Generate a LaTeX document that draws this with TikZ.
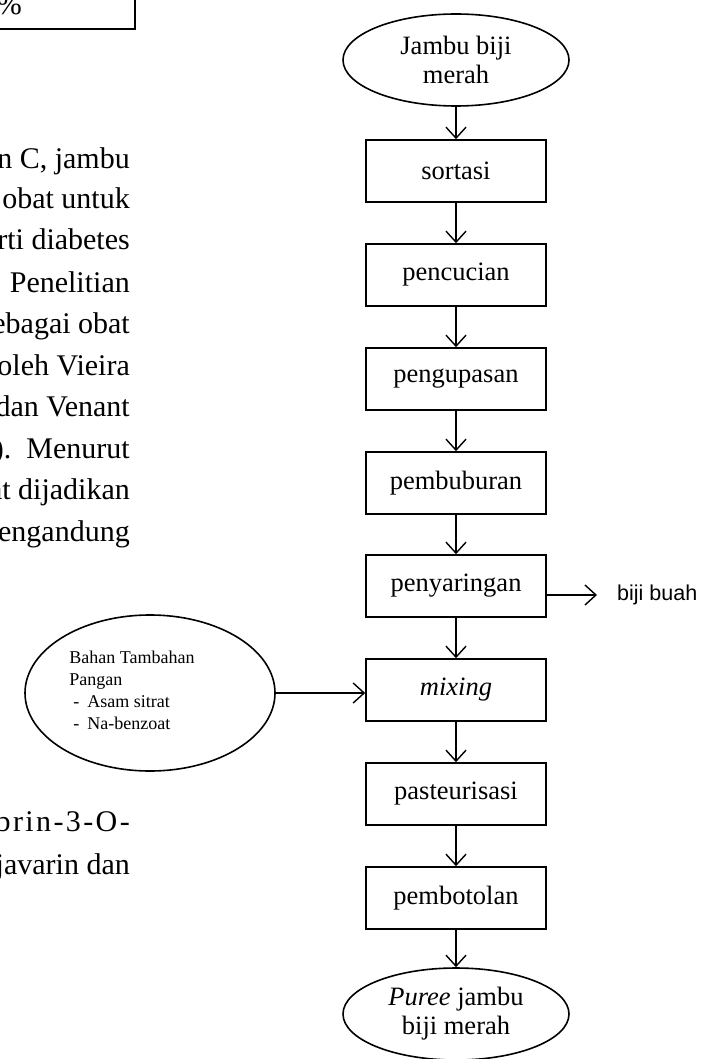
\documentclass[tikz,border=0pt]{standalone}
\usepackage{fontspec}
\setmainfont{Liberation Serif}
\newfontfamily\sansf{Liberation Sans}
\usetikzlibrary{arrows.meta,shapes.geometric}
\begin{document}
\begin{tikzpicture}[x=1pt,y=-1pt,
  flowbox/.style={draw, line width=1.6pt, minimum width=180pt, minimum height=62pt, inner sep=0pt,
    font=\fontsize{26.5}{29}\selectfont},
  term/.style={draw, ellipse, line width=1.6pt, minimum width=226pt, minimum height=92pt, inner sep=0pt,
    align=center, font=\fontsize{26.5}{29}\selectfont},
  bodyline/.style={anchor=base east, inner sep=0pt, font=\fontsize{30}{36}\selectfont},
  arr/.style={line width=1.4pt, -{Straight Barb[length=11pt,width=20pt,line width=1.4pt]}}
]
\useasboundingbox[fill=white] (0,0) rectangle (701,1059);

% cut-off table on the top left
\draw[line width=1.7pt] (-3,29) -- (135,29) -- (135,-3);
\node[bodyline] (pct) at (22,15) {\%};

% cut-off body text
\node[bodyline] (t1) at (130,169) {n C, jambu};
\node[bodyline] (t2) at (130,209) {obat untuk};
\node[bodyline] (t3) at (130,250) {rti diabetes};
\node[bodyline] (t4) at (130,292) {Penelitian};
\node[bodyline] (t5) at (130,333) {ebagai obat};
\node[bodyline] (t6) at (130,375) {oleh Vieira};
\node[bodyline] (t7) at (130,416) {dan Venant};
\node[bodyline] (t8) at (130,458) {).\ \ Menurut};
\node[bodyline] (t9) at (130,499) {at dijadikan};
\node[bodyline] (t10) at (130,541) {engandung};
\node[bodyline] (t11) at (130,831) {\addfontfeature{LetterSpace=8}brin-3-O-};
\node[bodyline] (t12) at (130,874) {javarin dan};

% flowchart
\node[term] (start) at (456,60) {Jambu biji\\merah};
\node[flowbox] (sortasi) at (456,171) {sortasi};
\node[flowbox] (cuci) at (456,275) {pencucian};
\node[flowbox] (kupas) at (456,379) {pengupasan};
\node[flowbox] (bubur) at (456,483) {pembuburan};
\node[flowbox] (saring) at (456,586) {penyaringan};
\node[flowbox] (mix) at (456,690) {\itshape mixing};
\node[flowbox] (pasteur) at (456,794) {pasteurisasi};
\node[flowbox] (botol) at (456,898) {pembotolan};
\node[term] (end) at (456,1014) {\textit{Puree} jambu\\biji merah};

\node[draw, ellipse, line width=1.6pt, minimum width=250pt, minimum height=156pt, inner sep=0pt] (btp) at (150,693) {};
\node[align=left, inner sep=0pt, font=\fontsize{18}{22}\selectfont] (btptext) at (132,690)
  {Bahan Tambahan\\Pangan\\\hspace*{4pt}-\hspace*{8pt}Asam sitrat\\\hspace*{4pt}-\hspace*{8pt}Na-benzoat};

\coordinate (bbend) at (597,595);
\node[anchor=west, inner sep=0pt, font=\sansf\fontsize{21.5}{25}\selectfont] (biji) at (617,595) {biji buah};

\draw[arr] (start) -- (sortasi);
\draw[arr] (sortasi) -- (cuci);
\draw[arr] (cuci) -- (kupas);
\draw[arr] (kupas) -- (bubur);
\draw[arr] (bubur) -- (saring);
\draw[arr] (saring) -- (mix);
\draw[arr] (mix) -- (pasteur);
\draw[arr] (pasteur) -- (botol);
\draw[arr] (botol) -- (end);
\draw[arr] (saring.east |- bbend) -- (bbend);
\draw[arr] (btp.east) -- (mix.west |- btp.east);
\end{tikzpicture}
\end{document}
